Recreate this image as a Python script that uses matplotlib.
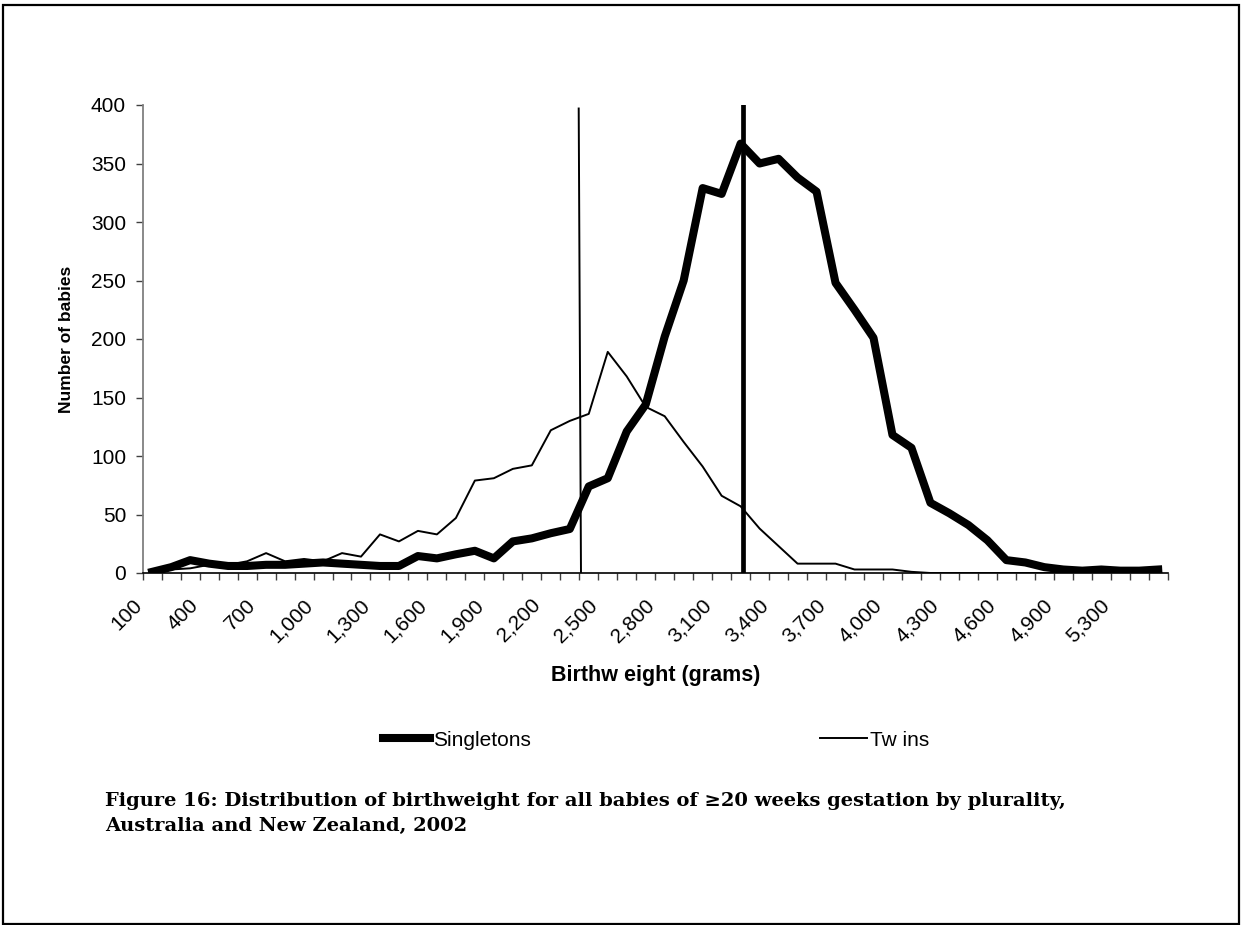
import matplotlib
matplotlib.use('Agg')
import matplotlib.pyplot as plt
from matplotlib.patches import Rectangle
from matplotlib.transforms import ScaledTranslation
import numpy as np

# DATA
weights = list(range(100, 5200, 100)) + [5300, 5400, 5500]
singletons = [1, 5, 11, 8, 6, 6, 7, 7, 8, 9, 8, 7, 6, 6, 14.5, 12.5, 16, 19, 12.5, 27,
              29.6, 34, 37.6, 74, 81, 121, 144, 202, 250, 329, 324, 367, 350, 354, 338, 326,
              248, 225, 201, 118, 107, 60, 51, 41, 28, 11, 9, 5, 3, 2, 3, 2, 2, 3]
twins = [0, 3, 4, 7, 7, 10, 17, 10, 12, 10, 17, 14, 33, 27, 36, 33, 47, 79, 81, 89,
         92, 122, 130, 136, 189, 168, 142, 134, 112, 91, 66, 57, 38, 23, 8, 8, 8, 3, 3, 3,
         1, 0, 0, 0, 0, 0, 0, 0, 0, 0, 0, 0, 0, 0]
# position of the marker lines, in category units
twins_mark = 22.47
singletons_mark = 31.1

W, H = 1241, 925
fig = plt.figure(figsize=(W / 100, H / 100), dpi=100)
plt.rcParams['font.family'] = ['Liberation Sans', 'DejaVu Sans']

left, right, top, bottom = 142.7, 1167.7, 105, 573
ax = fig.add_axes([left / W, 1 - bottom / H, (right - left) / W, (bottom - top) / H])

x = np.arange(len(weights))
ax.plot(x, singletons, color='black', lw=5.8, solid_joinstyle='round', label='Singletons', zorder=3)
ax.plot(x, twins, color='black', lw=1.4, label='Tw ins', zorder=3)

# mean lines
ax.plot([twins_mark, twins_mark + 0.12], [397, 0], color='black', lw=1.4, zorder=4)
ax.plot([singletons_mark, singletons_mark], [400, 1], color='black', lw=3.4, zorder=4)

ax.set_yticks(range(0, 401, 50))
ax.set_xticks(x[::3])
ax.set_xticklabels([f'{w:,}' for w in weights[::3]], rotation=45, ha='right',
                   rotation_mode='anchor', fontsize=15)
ax.set_xticks(np.arange(-0.5, len(weights), 1), minor=True)
ax.tick_params(axis='x', which='major', length=0, pad=16)
ax.tick_params(axis='x', which='minor', length=5, width=1, color='#404040')
ax.tick_params(axis='y', length=5, width=1, color='#404040', labelsize=15, pad=7)
ax.set_xlim(-0.5, len(weights) - 0.5)
ax.set_ylim(0, 400)

# rotated labels sit a bit left of their category, like in Excel
shift = ScaledTranslation(-20 / 100, 0, fig.dpi_scale_trans)
for lab in ax.get_xticklabels():
    lab.set_transform(lab.get_transform() + shift)

for s in ['top', 'right']:
    ax.spines[s].set_visible(False)
ax.spines['left'].set_color('#808080')
ax.spines['left'].set_linewidth(1.3)
ax.spines['bottom'].set_color('black')
ax.spines['bottom'].set_linewidth(1.2)

ax.set_ylabel('Number of babies', fontsize=12.5, fontweight='bold', labelpad=12)
fig.text(656 / W, 1 - 676 / H, 'Birthw eight (grams)', fontsize=15.5, fontweight='bold',
         ha='center', va='center')

leg = fig.legend(handles=ax.get_lines()[:2], loc='center',
                 bbox_to_anchor=(656 / W, 1 - 740 / H), ncol=2, frameon=False,
                 fontsize=15, handlelength=2.26, handletextpad=0.12, columnspacing=13.9)

cap_font = ['DejaVu Serif']
fig.text(105 / W, 1 - 801 / H,
         'Figure 16: Distribution of birthweight for all babies of \u226520 weeks gestation by plurality,',
         fontsize=14, fontweight='bold', family=cap_font, ha='left', va='center')
fig.text(105 / W, 1 - 826 / H, 'Australia and New Zealand, 2002',
         fontsize=14, fontweight='bold', family=cap_font, ha='left', va='center')

fig.add_artist(Rectangle((3 / W, 1 - 924 / H), (1239 - 3) / W, (924 - 5) / H,
                         transform=fig.transFigure, fill=False, edgecolor='black', lw=1.6))

fig.savefig('out.png', dpi=100)
